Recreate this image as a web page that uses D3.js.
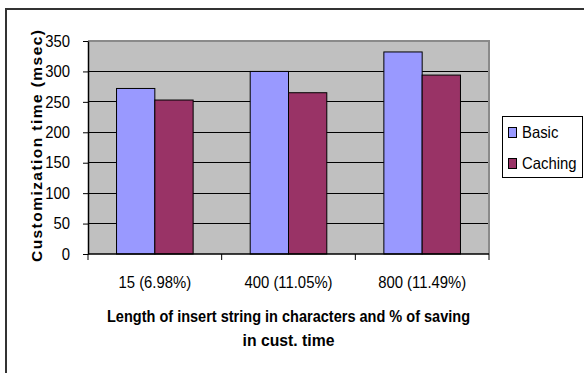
<!DOCTYPE html>
<html>
<head>
<meta charset="utf-8">
<script src="https://cdn.jsdelivr.net/npm/d3@7"></script>
<style>
  html, body { margin: 0; padding: 0; background: #fff; }
  svg { display: block; font-family: "Liberation Sans", Arial, sans-serif; }
</style>
</head>
<body>
<svg id="chart" width="584" height="373"></svg>
<script>
// Customization time per insert-string length, basic vs caching
const categories = ["15 (6.98%)", "400 (11.05%)", "800 (11.49%)"];
const seriesNames = ["Basic", "Caching"];
const basicValues = [272, 300, 332];
const cachingValues = [253, 265, 294];
const yTicks = [0, 50, 100, 150, 200, 250, 300, 350];
const colors = ["#9999ff", "#993366"];

const svg = d3.select("#chart");

// condense a text node horizontally to a fraction of its natural width
function condense(sel, factor) {
  sel.each(function () {
    const w = this.getComputedTextLength();
    d3.select(this).attr("textLength", w * factor).attr("lengthAdjust", "spacingAndGlyphs");
  });
}

// outer chart frame
svg.append("rect")
  .attr("x", 6).attr("y", 9).attr("width", 600).attr("height", 400)
  .attr("fill", "#fff").attr("stroke", "#333").attr("stroke-width", 2);

const plot = { left: 88, right: 489, top: 41, bottom: 254 };

const x = d3.scaleBand().domain(categories).range([plot.left, plot.right]);
const xSub = d3.scaleBand().domain(seriesNames).range([0, x.bandwidth()]).paddingOuter(0.745);
const y = d3.scaleLinear().domain([0, 350]).range([plot.bottom, plot.top]);

// plot background
svg.append("rect")
  .attr("x", plot.left).attr("y", plot.top)
  .attr("width", plot.right - plot.left).attr("height", plot.bottom - plot.top)
  .attr("fill", "#c0c0c0");

// horizontal gridlines
svg.append("g").selectAll("line")
  .data(yTicks.filter(t => t > 0 && t < 350))
  .join("line")
  .attr("x1", plot.left).attr("x2", plot.right)
  .attr("y1", d => y(d)).attr("y2", d => y(d))
  .attr("stroke", "#000").attr("stroke-width", 1)
  .attr("shape-rendering", "crispEdges");

// plot area border (top and right)
svg.append("path")
  .attr("d", `M${plot.left},${plot.top}H${plot.right}V${plot.bottom}`)
  .attr("fill", "none").attr("stroke", "#8a8a8a").attr("stroke-width", 2);

// bars
const rows = categories.map((c, i) => ({ cat: c, vals: [basicValues[i], cachingValues[i]] }));
const groups = svg.append("g").selectAll("g")
  .data(rows).join("g")
  .attr("transform", d => `translate(${x(d.cat)},0)`);
groups.selectAll("rect")
  .data(d => d.vals.map((v, j) => ({ name: seriesNames[j], v, j })))
  .join("rect")
  .attr("x", d => xSub(d.name))
  .attr("y", d => y(d.v))
  .attr("width", xSub.bandwidth())
  .attr("height", d => y(0) - y(d.v))
  .attr("fill", d => colors[d.j])
  .attr("stroke", "#000").attr("stroke-width", 1);

// y axis
const yAxis = svg.append("g")
  .attr("transform", `translate(${plot.left},0)`)
  .call(d3.axisLeft(y).tickValues(yTicks).tickSize(5).tickPadding(13).tickSizeOuter(0));
yAxis.select(".domain").attr("stroke", "#000").attr("stroke-width", 1.5);
yAxis.selectAll(".tick line").attr("stroke", "#000");
yAxis.selectAll(".tick text")
  .attr("font-size", 16.5).attr("fill", "#000")
  .attr("font-family", "Liberation Sans, Arial, sans-serif")
  .call(condense, 0.9);

// x axis: labels centred in bands, ticks at band boundaries
const xAxis = svg.append("g")
  .attr("transform", `translate(0,${plot.bottom})`)
  .call(d3.axisBottom(x).tickSize(0).tickPadding(22).tickSizeOuter(0));
xAxis.select(".domain").remove();
xAxis.selectAll(".tick text")
  .attr("font-size", 16.5).attr("fill", "#000")
  .attr("font-family", "Liberation Sans, Arial, sans-serif")
  .call(condense, 0.9);
const bounds = categories.map(c => x(c)).concat([x.range()[1]]);
svg.append("g").selectAll("line")
  .data(bounds).join("line")
  .attr("x1", d => d).attr("x2", d => d)
  .attr("y1", plot.bottom).attr("y2", plot.bottom + 6)
  .attr("stroke", "#000");
svg.append("line")
  .attr("x1", plot.left).attr("x2", plot.right)
  .attr("y1", plot.bottom).attr("y2", plot.bottom)
  .attr("stroke", "#000").attr("stroke-width", 1.5);

// axis titles
const cx = (plot.left + plot.right) / 2;
svg.append("text")
  .attr("x", cx).attr("y", 321.5)
  .attr("text-anchor", "middle")
  .attr("font-size", 16.5).attr("font-weight", "bold")
  .attr("textLength", 363).attr("lengthAdjust", "spacingAndGlyphs")
  .text("Length of insert string in characters and % of saving");
svg.append("text")
  .attr("x", cx).attr("y", 345.5)
  .attr("text-anchor", "middle")
  .attr("font-size", 16.5).attr("font-weight", "bold")
  .attr("textLength", 92).attr("lengthAdjust", "spacingAndGlyphs")
  .text("in cust. time");
svg.append("text")
  .attr("transform", `translate(41.5,146) rotate(-90)`)
  .attr("text-anchor", "middle")
  .attr("font-size", 15.5).attr("font-weight", "bold")
  .attr("textLength", 232).attr("lengthAdjust", "spacing")
  .text("Customization time (msec)");

// legend
const legend = svg.append("g");
legend.append("rect")
  .attr("x", 502.5).attr("y", 116.5).attr("width", 80).attr("height", 61)
  .attr("fill", "#fff").attr("stroke", "#000").attr("stroke-width", 1);
const items = legend.selectAll("g.item")
  .data(seriesNames).join("g").attr("class", "item")
  .attr("transform", (d, i) => `translate(508,${127 + i * 31})`);
items.append("rect")
  .attr("x", 0.5).attr("y", 0.5).attr("width", 8).attr("height", 10)
  .attr("fill", (d, i) => colors[i]).attr("stroke", "#000").attr("stroke-width", 1);
items.append("text")
  .attr("x", 14).attr("y", 10.5)
  .attr("font-size", 16.5).attr("fill", "#000")
  .text(d => d)
  .call(condense, 0.9);
</script>
</body>
</html>
